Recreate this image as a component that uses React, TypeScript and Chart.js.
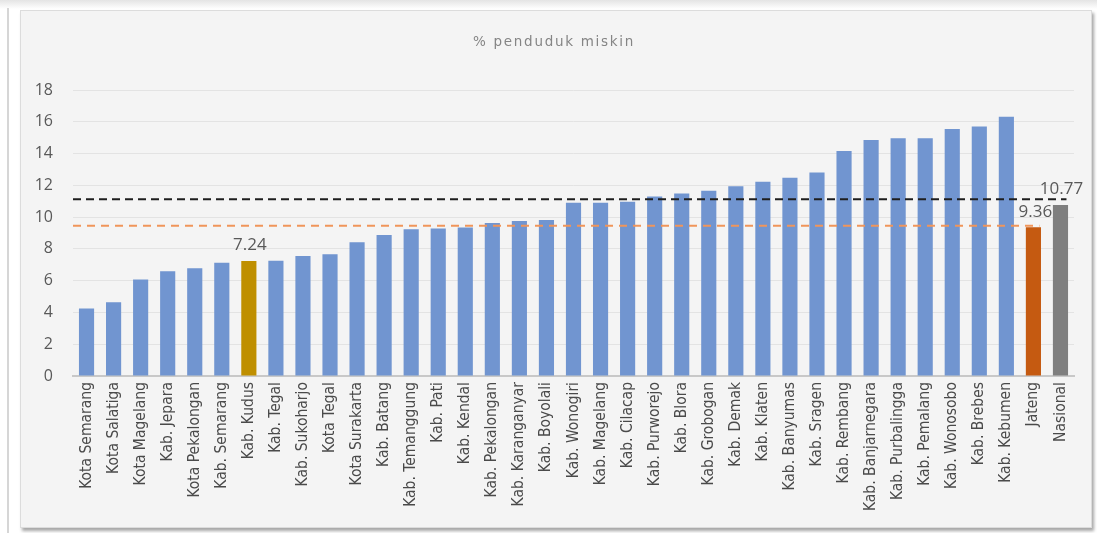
import React, { useEffect, useRef } from "react";
import { Chart, registerables } from "chart.js";

Chart.register(...registerables);

const chartTitle = "% penduduk miskin";

const categories = [
  "Kota Semarang", "Kota Salatiga", "Kota Magelang", "Kab. Jepara", "Kota Pekalongan",
  "Kab. Semarang", "Kab. Kudus", "Kab. Tegal", "Kab. Sukoharjo", "Kota Tegal",
  "Kota Surakarta", "Kab. Batang", "Kab. Temanggung", "Kab. Pati", "Kab. Kendal",
  "Kab. Pekalongan", "Kab. Karanganyar", "Kab. Boyolali", "Kab. Wonogiri", "Kab. Magelang",
  "Kab. Cilacap", "Kab. Purworejo", "Kab. Blora", "Kab. Grobogan", "Kab. Demak",
  "Kab. Klaten", "Kab. Banyumas", "Kab. Sragen", "Kab. Rembang", "Kab. Banjarnegara",
  "Kab. Purbalingga", "Kab. Pemalang", "Kab. Wonosobo", "Kab. Brebes", "Kab. Kebumen",
  "Jateng", "Nasional",
];

const values = [
  4.25, 4.64, 6.08, 6.6, 6.78,
  7.13, 7.24, 7.26, 7.55, 7.66,
  8.41, 8.87, 9.23, 9.29, 9.35,
  9.63, 9.75, 9.82, 10.91, 10.91,
  10.97, 11.3, 11.49, 11.66, 11.94,
  12.23, 12.48, 12.81, 14.16, 14.85,
  14.96, 14.96, 15.54, 15.71, 16.32,
  9.36, 10.77,
];

const yTicks = [0, 2, 4, 6, 8, 10, 12, 14, 16, 18];

// categories whose value is written above the bar
const labeledCategories = ["Kab. Kudus", "Jateng", "Nasional"];

// dashed reference lines: level and the category where the line stops
const refLineValues = [11.13, 9.46];
const refLineEnds = ["Nasional", "Jateng"];

const BLUE = "#7195d0";
const highlightColors: Record<string, string> = {
  "Kab. Kudus": "#bf8f00",
  Jateng: "#c55a11",
  Nasional: "#7f7f7f",
};
const refLineColors = ["#1e1e1e", "#f0955a"];

const titlePlugin = {
  id: "customTitle",
  afterDraw(chart: any) {
    const ctx = chart.ctx;
    ctx.save();
    ctx.font = '13.5px "DejaVu Sans", sans-serif';
    (ctx as any).letterSpacing = "1.7px";
    ctx.fillStyle = "#858585";
    ctx.textAlign = "center";
    ctx.textBaseline = "middle";
    ctx.fillText(chartTitle, 554, 42);
    ctx.restore();
  },
};

const refLinePlugin = {
  id: "refLines",
  afterDatasetsDraw(chart: any) {
    const ctx = chart.ctx;
    const x = chart.scales.x;
    const y = chart.scales.y;
    ctx.save();
    refLineValues.forEach((v, i) => {
      const py = y.getPixelForValue(v);
      const endIdx = categories.indexOf(refLineEnds[i]);
      const xEnd = x.getPixelForValue(endIdx) + 6;
      ctx.beginPath();
      ctx.setLineDash(i === 0 ? [8, 5] : [8, 6]);
      ctx.strokeStyle = refLineColors[i];
      ctx.lineWidth = 2;
      ctx.moveTo(chart.chartArea.left, py);
      ctx.lineTo(xEnd, py);
      ctx.stroke();
    });
    ctx.restore();
  },
};

const valueLabelPlugin = {
  id: "valueLabels",
  afterDraw(chart: any) {
    const ctx = chart.ctx;
    const meta = chart.getDatasetMeta(0);
    ctx.save();
    ctx.font = '17px "Open Sans", sans-serif';
    ctx.fillStyle = "#595959";
    ctx.textAlign = "center";
    ctx.textBaseline = "bottom";
    labeledCategories.forEach((c) => {
      const idx = categories.indexOf(c);
      const el = meta.data[idx];
      ctx.fillText(values[idx].toFixed(2), el.x + (c === "Jateng" ? 2 : 1), el.y - 7);
    });
    ctx.restore();
  },
};

export default function App() {
  const ref = useRef<HTMLCanvasElement | null>(null);

  useEffect(() => {
    if (!ref.current) return;
    const chart = new Chart(ref.current, {
      type: "bar",
      data: {
        labels: categories,
        datasets: [
          {
            label: chartTitle,
            data: values,
            backgroundColor: categories.map((c) => highlightColors[c] || BLUE),
            categoryPercentage: 1,
            barPercentage: 0.56,
          },
        ],
      },
      options: {
        responsive: false,
        animation: false,
        devicePixelRatio: 1,
        layout: { padding: { top: 90, left: 0, right: 23, bottom: 0 } },
        plugins: {
          legend: { display: false },
          title: { display: false },
          tooltip: { enabled: false },
        },
        scales: {
          x: {
            grid: { display: false, drawTicks: false },
            border: { display: true, color: "#c8c8c8", width: 2 },
            ticks: {
              autoSkip: false,
              minRotation: 90,
              maxRotation: 90,
              padding: 6,
              color: "#4a4a4a",
              font: { family: '"DejaVu Sans Condensed", "Liberation Sans Narrow", sans-serif', size: 15.5 },
            },
            afterFit(scale: any) {
              scale.height = 157;
            },
          },
          y: {
            min: 0,
            max: 18,
            afterBuildTicks(scale: any) {
              scale.ticks = yTicks.map((v) => ({ value: v }));
            },
            grid: { color: "#e3e3e3", lineWidth: 1, drawTicks: false },
            border: { display: false },
            ticks: {
              padding: 20,
              color: "#595959",
              font: { family: '"Open Sans", sans-serif', size: 16 },
            },
            afterFit(scale: any) {
              scale.width = 73;
            },
          },
        },
      },
      plugins: [titlePlugin, refLinePlugin, valueLabelPlugin],
    });
    return () => chart.destroy();
  }, []);

  return (
    <div
      style={{
        position: "absolute",
        left: 0,
        top: 0,
        width: 1097,
        height: 533,
        overflow: "hidden",
        background: "linear-gradient(#e4e4e4 0px, #ffffff 9px)",
      }}
    >
      <div style={{ position: "absolute", left: 7, top: 8, width: 2, height: 525, background: "#d6d6d6" }} />
      <div
        style={{
          position: "absolute",
          left: 20,
          top: 10,
          width: 1070,
          height: 516,
          background: "#f4f4f4",
          border: "1px solid #dcdcdc",
          boxShadow: "2px 3px 3px rgba(0,0,0,0.35)",
        }}
      />
      <canvas ref={ref} width={1097} height={533} style={{ position: "absolute", left: 0, top: 0 }} />
    </div>
  );
}
